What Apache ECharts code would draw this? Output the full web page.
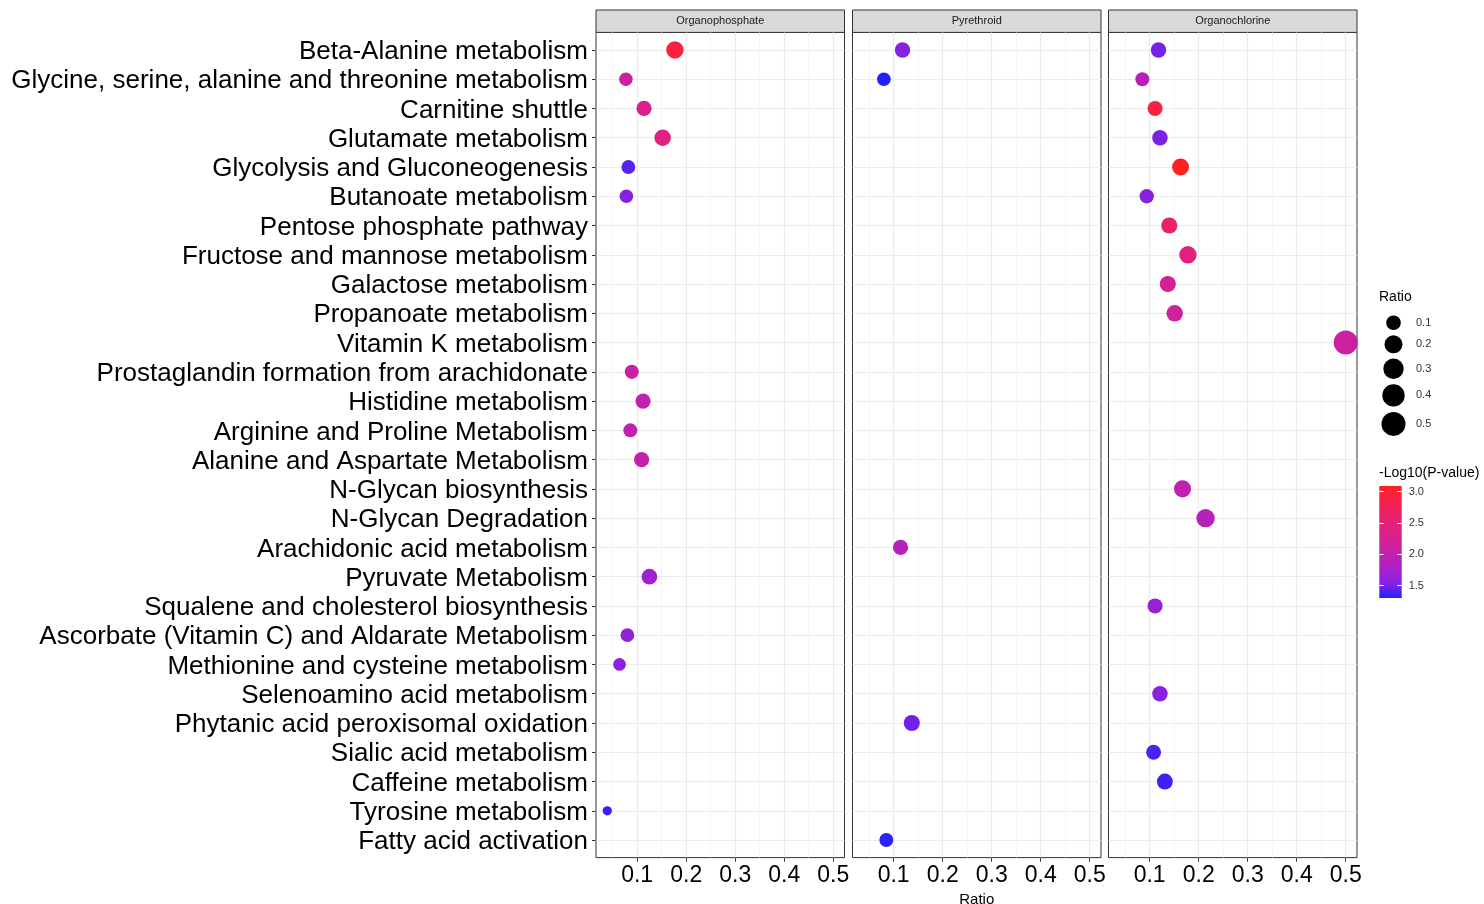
<!DOCTYPE html>
<html>
<head>
<meta charset="utf-8">
<script src="https://cdn.jsdelivr.net/npm/echarts@6/dist/echarts.min.js"></script>
<style>
  html, body { margin: 0; padding: 0; background: #fff; }
  #chart { width: 1484px; height: 904px; }
</style>
</head>
<body>
<div id="chart"></div>
<script>
const pathways = [
  'Beta-Alanine metabolism',
  'Glycine, serine, alanine and threonine metabolism',
  'Carnitine shuttle',
  'Glutamate metabolism',
  'Glycolysis and Gluconeogenesis',
  'Butanoate metabolism',
  'Pentose phosphate pathway',
  'Fructose and mannose metabolism',
  'Galactose metabolism',
  'Propanoate metabolism',
  'Vitamin K metabolism',
  'Prostaglandin formation from arachidonate',
  'Histidine metabolism',
  'Arginine and Proline Metabolism',
  'Alanine and Aspartate Metabolism',
  'N-Glycan biosynthesis',
  'N-Glycan Degradation',
  'Arachidonic acid metabolism',
  'Pyruvate Metabolism',
  'Squalene and cholesterol biosynthesis',
  'Ascorbate (Vitamin C) and Aldarate Metabolism',
  'Methionine and cysteine metabolism',
  'Selenoamino acid metabolism',
  'Phytanic acid peroxisomal oxidation',
  'Sialic acid metabolism',
  'Caffeine metabolism',
  'Tyrosine metabolism',
  'Fatty acid activation'
]
const facets = ['Organophosphate', 'Pyrethroid', 'Organochlorine']

// ratio and -log10(p) per pathway, null = not enriched
const opRatio = [0.177, 0.077, 0.114, 0.152, 0.082, 0.078, null, null, null, null, null, 0.089, 0.112, 0.086,
  0.109, null, null, null, 0.125, null, 0.080, 0.064, null, null, null, null, 0.039, null]
const opLogP  = [2.95, 2.12, 2.34, 2.42, 1.42, 1.53, null, null, null, null, null, 2.10, 2.00, 1.98,
  2.02, null, null, null, 1.70, null, 1.62, 1.57, null, null, null, null, 1.35, null]
const pyRatio = [0.118, 0.080, null, null, null, null, null, null, null, null, null, null, null, null,
  null, null, null, 0.114, null, null, null, null, null, 0.137, null, null, null, 0.085]
const pyLogP  = [1.55, 1.30, null, null, null, null, null, null, null, null, null, null, null, null,
  null, null, null, 1.90, null, null, null, null, null, 1.47, null, null, null, 1.33]
const ocRatio = [0.118, 0.085, 0.111, 0.121, 0.163, 0.094, 0.140, 0.178, 0.137, 0.151, 0.500, null, null, null,
  null, 0.167, 0.214, null, null, 0.111, null, null, 0.121, null, 0.108, 0.131, null, null]
const ocLogP  = [1.49, 1.90, 2.93, 1.50, 3.09, 1.53, 2.60, 2.45, 2.22, 2.15, 2.12, null, null, null,
  null, 2.00, 1.90, null, null, 1.65, null, null, 1.55, null, 1.40, 1.36, null, null]

const xTicks = [0.1, 0.2, 0.3, 0.4, 0.5]
const sizeBreaks = [0.1, 0.2, 0.3, 0.4, 0.5]
const colorTicks = [1.5, 2.0, 2.5, 3.0]
// blue -> red through magenta (Lab-like), a touch washed out as in the picture
const ramp = ['#2121FF', '#8521E4', '#A721CA', '#BF21B1', '#D12198', '#DF217F', '#EB2166', '#F5214C', '#FF2121']

const FONT = '"Liberation Sans", Arial, Helvetica, sans-serif'
const ratios = [opRatio, pyRatio, ocRatio]
const logps = [opLogP, pyLogP, ocLogP]
const allR = ratios.flat().filter(v => v != null)
const allP = logps.flat().filter(v => v != null)
const rMin = Math.min(...allR), rMax = Math.max(...allR)
const pMin = Math.min(...allP), pMax = Math.max(...allP)
const sizeOf = r => 9.3 + 14.7 * Math.sqrt(Math.max(0, r - rMin) / (rMax - rMin))

const rowIdx = pathways.map((_, i) => i)
const panelLeft = [596, 852.5, 1108.5]
const panelW = 248.5, panelTop = 32.4, panelH = 825.2

const chart = echarts.init(document.getElementById('chart'))

const grids = panelLeft.map(left => ({
  left, top: panelTop, width: panelW, height: panelH, containLabel: false, outerBoundsMode: 'none',
  show: true, borderColor: '#333', borderWidth: 1, backgroundColor: '#fff'
}))
// colour bar
grids.push({
  left: 1379.3, top: 486, width: 22.4, height: 112, containLabel: false, outerBoundsMode: 'none',
  show: true, borderWidth: 0,
  backgroundColor: new echarts.graphic.LinearGradient(0, 1, 0, 0,
    ramp.map((c, i) => ({ offset: i / (ramp.length - 1), color: c })))
})

const xAxes = panelLeft.map((_, i) => ({
  type: 'value', gridIndex: i, position: 'bottom', min: 0.016, max: 0.523, minInterval: 0.1, maxInterval: 0.1,
  axisLine: { show: false, onZero: false },
  axisTick: { show: true, length: 4, customValues: xTicks, lineStyle: { color: '#333' } },
  axisLabel: { customValues: xTicks, formatter: v => v.toFixed(1), fontSize: 23, color: '#000', margin: 7, fontFamily: FONT },
  splitLine: { show: true, lineStyle: { color: '#EBEBEB', width: 1.2 } },
  minorTick: { show: false, splitNumber: 2 },
  minorSplitLine: { show: true, lineStyle: { color: '#F4F4F4', width: 0.8 } },
  name: i === 1 ? 'Ratio' : '', nameLocation: 'middle', nameGap: 31,
  nameTextStyle: { fontSize: 15, color: '#000', fontFamily: FONT }
}))
xAxes.push({ type: 'value', gridIndex: 3, show: false, min: 0, max: 1 })

const yAxes = panelLeft.map((_, i) => ({
  type: 'value', gridIndex: i, position: 'left', min: -0.6, max: 27.6, inverse: true, minInterval: 1, maxInterval: 1,
  axisLine: { show: false, onZero: false },
  axisTick: { show: i === 0, length: 4, customValues: rowIdx, lineStyle: { color: '#333' } },
  axisLabel: { show: i === 0, customValues: rowIdx, formatter: v => pathways[v], fontSize: 26, color: '#000',
    margin: 8, verticalAlign: 'top', lineHeight: 4, fontFamily: FONT },
  splitLine: { show: true, lineStyle: { color: '#EBEBEB', width: 1.2 } }
}))
const cbAxis = side => ({
  type: 'value', gridIndex: 3, min: pMin, max: pMax, position: side,
  axisLine: { show: false, onZero: false },
  axisTick: { show: true, inside: true, length: 4.5, customValues: colorTicks, lineStyle: { color: '#fff', width: 1 } },
  axisLabel: { show: side === 'right', customValues: colorTicks, formatter: v => v.toFixed(1), fontSize: 11, color: '#333', margin: 7, fontFamily: FONT },
  splitLine: { show: false }
})
yAxes.push(cbAxis('right'), cbAxis('left'))

const series = facets.map((name, i) => ({
  name, type: 'scatter', xAxisIndex: i, yAxisIndex: i,
  symbol: 'circle',
  symbolSize: v => sizeOf(v[0]),
  data: ratios[i].map((r, k) => r == null ? null : [r, k, logps[i][k]]).filter(Boolean),
  itemStyle: { opacity: 1 },
  emphasis: { disabled: true }
}))

// strips, legend keys
const graphic = []
panelLeft.forEach((left, i) => {
  graphic.push({ type: 'rect', shape: { x: left, y: 10, width: panelW, height: panelTop - 10 },
    style: { fill: '#D9D9D9', stroke: '#333', lineWidth: 1 } })
  graphic.push({ type: 'text', x: left + panelW / 2, y: (10 + panelTop) / 2,
    style: { text: facets[i], fill: '#1a1a1a', font: '11px ' + FONT, align: 'center', verticalAlign: 'middle' } })
})
graphic.push({ type: 'text', x: 1379, y: 297,
  style: { text: 'Ratio', fill: '#000', font: '14px ' + FONT, align: 'left', verticalAlign: 'middle' } })
let ky = 322.7
sizeBreaks.forEach((b, i) => {
  if (i > 0) ky += (sizeOf(sizeBreaks[i - 1]) + sizeOf(b)) / 2 + 5.3
  graphic.push({ type: 'circle', shape: { cx: 1393.5, cy: ky, r: sizeOf(b) / 2 }, style: { fill: '#000' } })
  graphic.push({ type: 'text', x: 1416, y: ky,
    style: { text: b.toFixed(1), fill: '#333', font: '11px ' + FONT, align: 'left', verticalAlign: 'middle' } })
})
graphic.push({ type: 'text', x: 1379, y: 473,
  style: { text: '-Log10(P-value)', fill: '#000', font: '14px ' + FONT, align: 'left', verticalAlign: 'middle' } })

chart.setOption({
  backgroundColor: '#fff',
  animation: false,
  grid: grids,
  xAxis: xAxes,
  yAxis: yAxes,
  visualMap: [{
    type: 'continuous', show: false, dimension: 2, seriesIndex: [0, 1, 2],
    min: pMin, max: pMax, inRange: { color: ramp }
  }],
  series,
  graphic,
  tooltip: { show: false }
})
</script>
</body>
</html>
